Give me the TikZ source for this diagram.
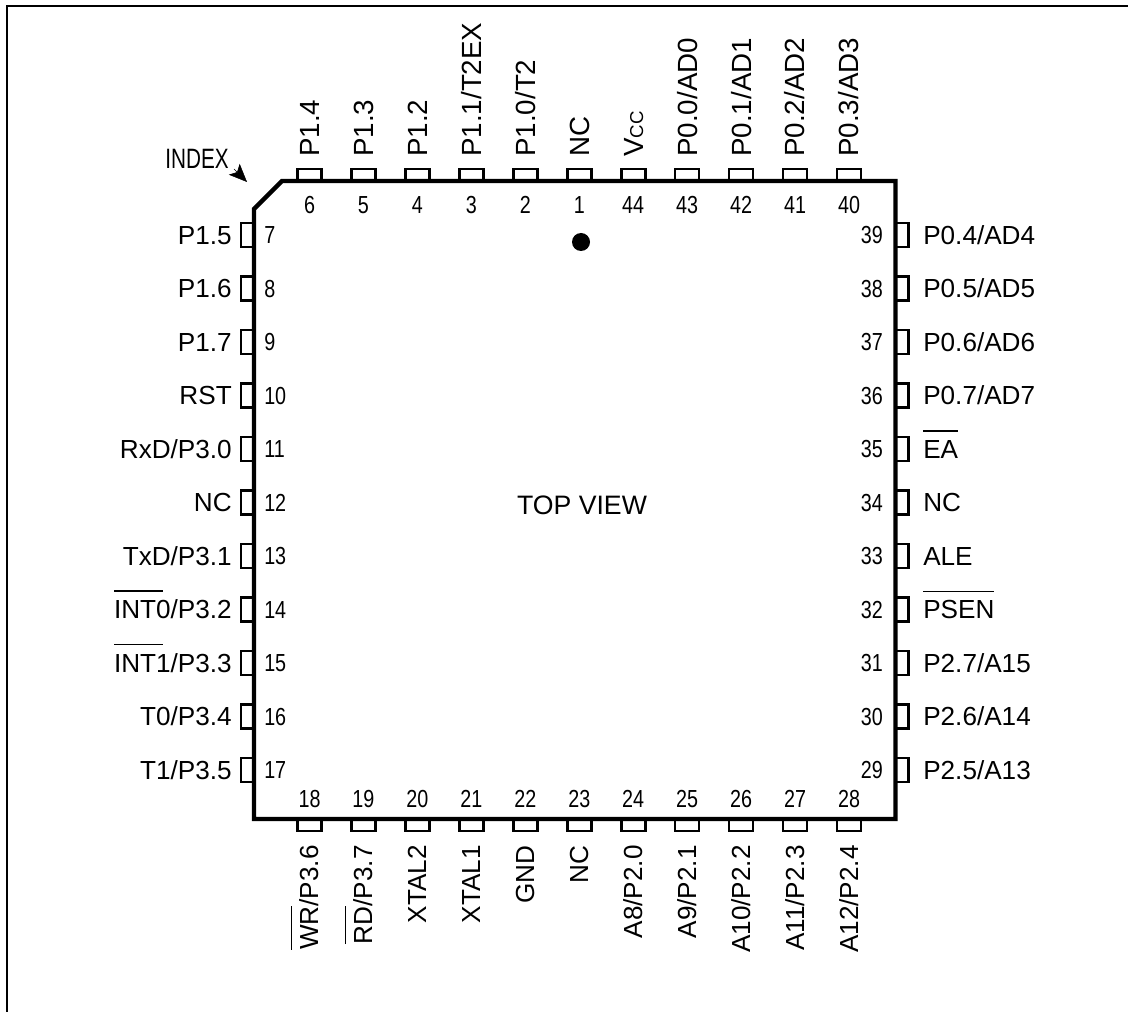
\documentclass[tikz,border=0pt]{standalone}
\usepackage{fontspec}
\setmainfont{Liberation Sans}
\newfontfamily\narrowfont[FakeStretch=0.8]{Liberation Sans}
\newfontfamily\indexfont[FakeStretch=0.74]{Liberation Sans}
\usepackage{xcolor}
\usetikzlibrary{
  positioning,
  calc,
  arrows.meta
}
\newsavebox{\ovlbox}
\newcommand{\ovl}[1]{\sbox{\ovlbox}{#1}\rlap{\rule[20pt]{\wd\ovlbox}{1.2pt}}\usebox{\ovlbox}}
\newcommand{\intbar}{\rlap{\rule[20.3pt]{36.7pt}{1.2pt}}INT}
\newcommand{\smallcc}{{\fontsize{14pt}{14pt}\selectfont CC}}
\tikzset{
  pinbox/.style={line width=2pt},
  pinlabel/.style={inner sep=0pt,font=\fontsize{19.6pt}{19.6pt}\selectfont,text height=14pt,text depth=0pt},
  toplabel/.style={inner sep=0pt,font=\fontsize{20.8pt}{20.8pt}\selectfont,text height=14.9pt,text depth=0pt},
  pinnum/.style={inner sep=0pt,font=\fontsize{18.5pt}{18.5pt}\narrowfont,text height=13.2pt,text depth=0pt}
}

\begin{document}
\begin{tikzpicture}[x=0.75pt,y=-0.75pt]
  \useasboundingbox (0,0) rectangle (1128,1012);

  \draw[line width=1.9pt] (1128,6)--(7,6)--(7,1012);
  \draw[line width=3.2pt] (254,209)--(282,181)--(895.5,181)--(895.5,819)--(254,819)--cycle;

  % top row
  \foreach \k/\n/\t in {0/6/P1.4,1/5/P1.3,2/4/P1.2,3/3/{P1.1/T2EX},4/2/{P1.0/T2},5/1/NC,
    6/44/{V\smallcc},7/43/{P0.0/AD0},8/42/{P0.1/AD1},9/41/{P0.2/AD2},10/40/{P0.3/AD3}}{
    \coordinate (pin_\n) at ({309.5+53.95*\k},181);
    \draw[pinbox] ($(pin_\n)+(-12,0)$) rectangle ($(pin_\n)+(12,-12)$);
    \node[toplabel,rotate=90,anchor=west] (lab_\n) at ($(pin_\n)+(0,-24)$) {\t};
    \node[pinnum] (num_\n) at ($(pin_\n)+(0,24)$) {\n};
  }

  % left row
  \foreach \k/\n/\t in {0/7/P1.5,1/8/P1.6,2/9/P1.7,3/10/RST,4/11/{RxD/P3.0},5/12/NC,6/13/{TxD/P3.1},
    7/14/{\intbar0/P3.2},8/15/{\intbar1/P3.3},9/16/{T0/P3.4},10/17/{T1/P3.5}}{
    \coordinate (pin_\n) at (253,{235+53.5*\k});
    \draw[pinbox] ($(pin_\n)+(-12,-12)$) rectangle ($(pin_\n)+(0,12)$);
    \node[pinlabel,anchor=east] (lab_\n) at ($(pin_\n)+(-21,0)$) {\t};
    \node[pinnum,anchor=west] (num_\n) at ($(pin_\n)+(11,0)$) {\n};
  }

  % bottom row
  \foreach \k/\n/\t in {0/18/{\ovl{WR}/P3.6},1/19/{\ovl{RD}/P3.7},2/20/XTAL2,3/21/XTAL1,4/22/GND,5/23/NC,
    6/24/{A8/P2.0},7/25/{A9/P2.1},8/26/{A10/P2.2},9/27/{A11/P2.3},10/28/{A12/P2.4}}{
    \coordinate (pin_\n) at ({309.5+53.95*\k},819);
    \draw[pinbox] ($(pin_\n)+(-12,0)$) rectangle ($(pin_\n)+(12,12)$);
    \node[pinlabel,rotate=90,anchor=east] (lab_\n) at ($(pin_\n)+(0,26)$) {\t};
    \node[pinnum] (num_\n) at ($(pin_\n)+(0,-20)$) {\n};
  }

  % right row
  \foreach \k/\n/\t in {0/39/{P0.4/AD4},1/38/{P0.5/AD5},2/37/{P0.6/AD6},3/36/{P0.7/AD7},4/35/\ovl{EA},5/34/NC,
    6/33/ALE,7/32/\ovl{PSEN},8/31/{P2.7/A15},9/30/{P2.6/A14},10/29/{P2.5/A13}}{
    \coordinate (pin_\n) at (895,{235+53.5*\k});
    \draw[pinbox] ($(pin_\n)+(0,-12)$) rectangle ($(pin_\n)+(13.5,12)$);
    \node[pinlabel,anchor=west] (lab_\n) at ($(pin_\n)+(28,0)$) {\t};
    \node[pinnum,anchor=east] (num_\n) at ($(pin_\n)+(-12,0)$) {\n};
  }

  \fill (581,242) circle (9);
  \node[pinlabel,font=\fontsize{20pt}{20pt}\selectfont] (view) at (582,505) {TOP VIEW};

  \node[pinnum,font=\fontsize{21pt}{21pt}\indexfont,text height=15pt,anchor=east] (index) at (229,158.5) {INDEX};
  \coordinate (index_tail) at (234,169);
  \coordinate (index_tip) at (247,182);
  \draw[-{Stealth[length=13.5pt,width=11.5pt,inset=3pt]},line width=.4pt] (index_tail)--(index_tip);
\end{tikzpicture}
\end{document}
